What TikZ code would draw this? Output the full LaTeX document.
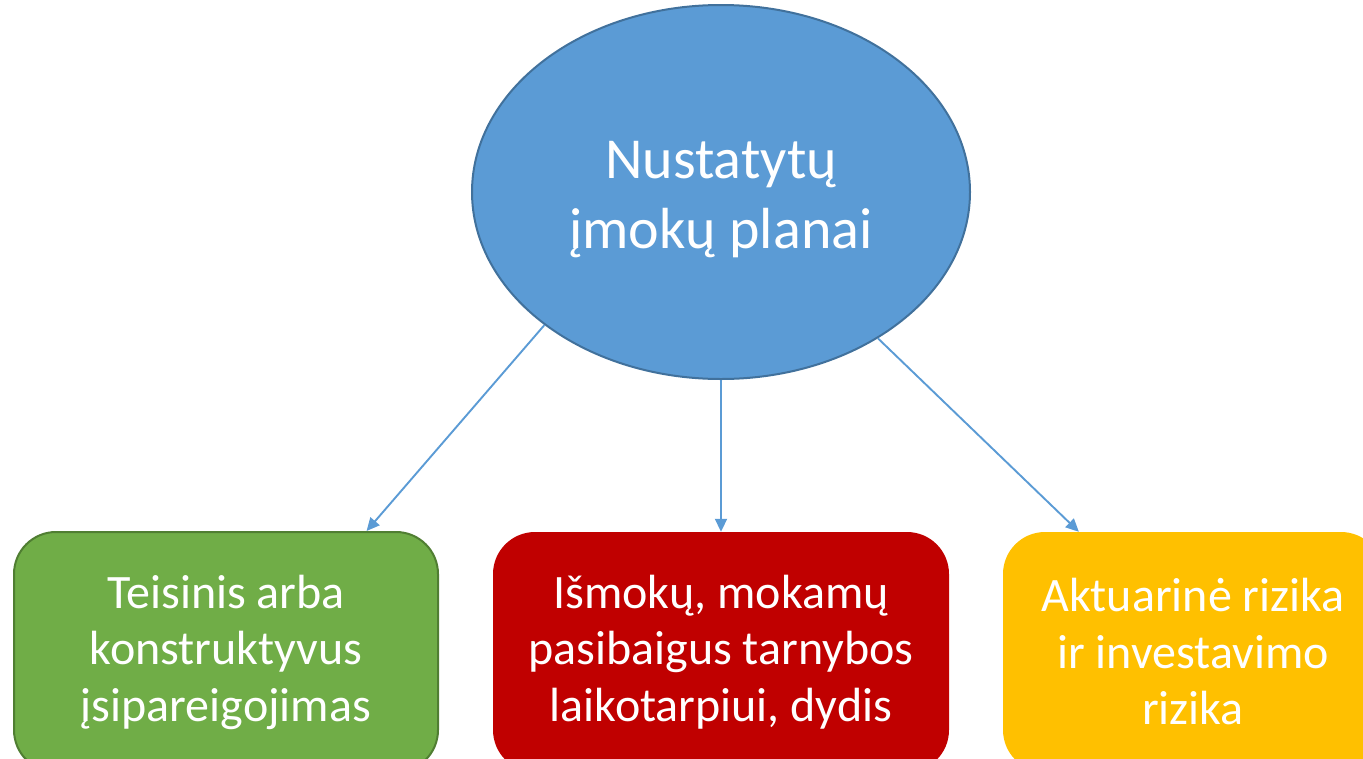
\documentclass[tikz,border=0pt]{standalone}
\usepackage{fontspec}
\setmainfont{Carlito}
\usetikzlibrary{shapes.geometric,arrows.meta,calc}
\definecolor{ellfill}{HTML}{5B9BD5}
\definecolor{elldraw}{HTML}{41719C}
\definecolor{grfill}{HTML}{70AD47}
\definecolor{grdraw}{HTML}{507E32}
\definecolor{rdfill}{HTML}{C00000}
\definecolor{yefill}{HTML}{FFC000}
\definecolor{arrcol}{HTML}{5B9BD5}
\tikzset{
  boxnode/.style={rectangle, rounded corners=42pt, minimum height=240pt, inner sep=0pt,
    text=white, align=center, font=\fontsize{48}{56.5}\selectfont},
  arr/.style={draw=arrcol, line width=1.9pt, -{Triangle[length=13pt,width=12pt]}}
}
\begin{document}
\begin{tikzpicture}[x=1pt,y=-1pt]
\useasboundingbox (0,0) rectangle (1363,758);
\clip (0,0) rectangle (1363,758);
\node[ellipse, fill=ellfill, draw=elldraw, line width=2pt, minimum width=498pt, minimum height=374pt,
  inner sep=0pt] (ell) at (721,192) {};
\node[text=white, align=center, inner sep=0pt, font=\fontsize{58}{70}\selectfont] (elltext) at (721,200)
  {Nustatytų\\įmokų planai};
\node[boxnode, fill=grfill, draw=grdraw, line width=2pt, minimum width=424pt] (g) at (226,652)
  {Teisinis arba\\konstruktyvus\\įsipareigojimas};
\node[boxnode, fill=rdfill, minimum width=456pt] (r) at (721,652)
  {Išmokų, mokamų\\pasibaigus tarnybos\\laikotarpiui, dydis};
\node[boxnode, fill=yefill, minimum width=380pt] (y) at (1193,652)
  {Aktuarinė rizika\\ir investavimo\\rizika};
\coordinate (gt) at ($(g.north west)!0.83!(g.north east)$);
\coordinate (yt) at ($(y.north west)!0.2!(y.north east)$);
\draw[arr] (ell.217) -- (gt);
\draw[arr] (ell.south) -- (r.north);
\draw[arr] (ell.317) -- (yt);
\end{tikzpicture}
\end{document}
